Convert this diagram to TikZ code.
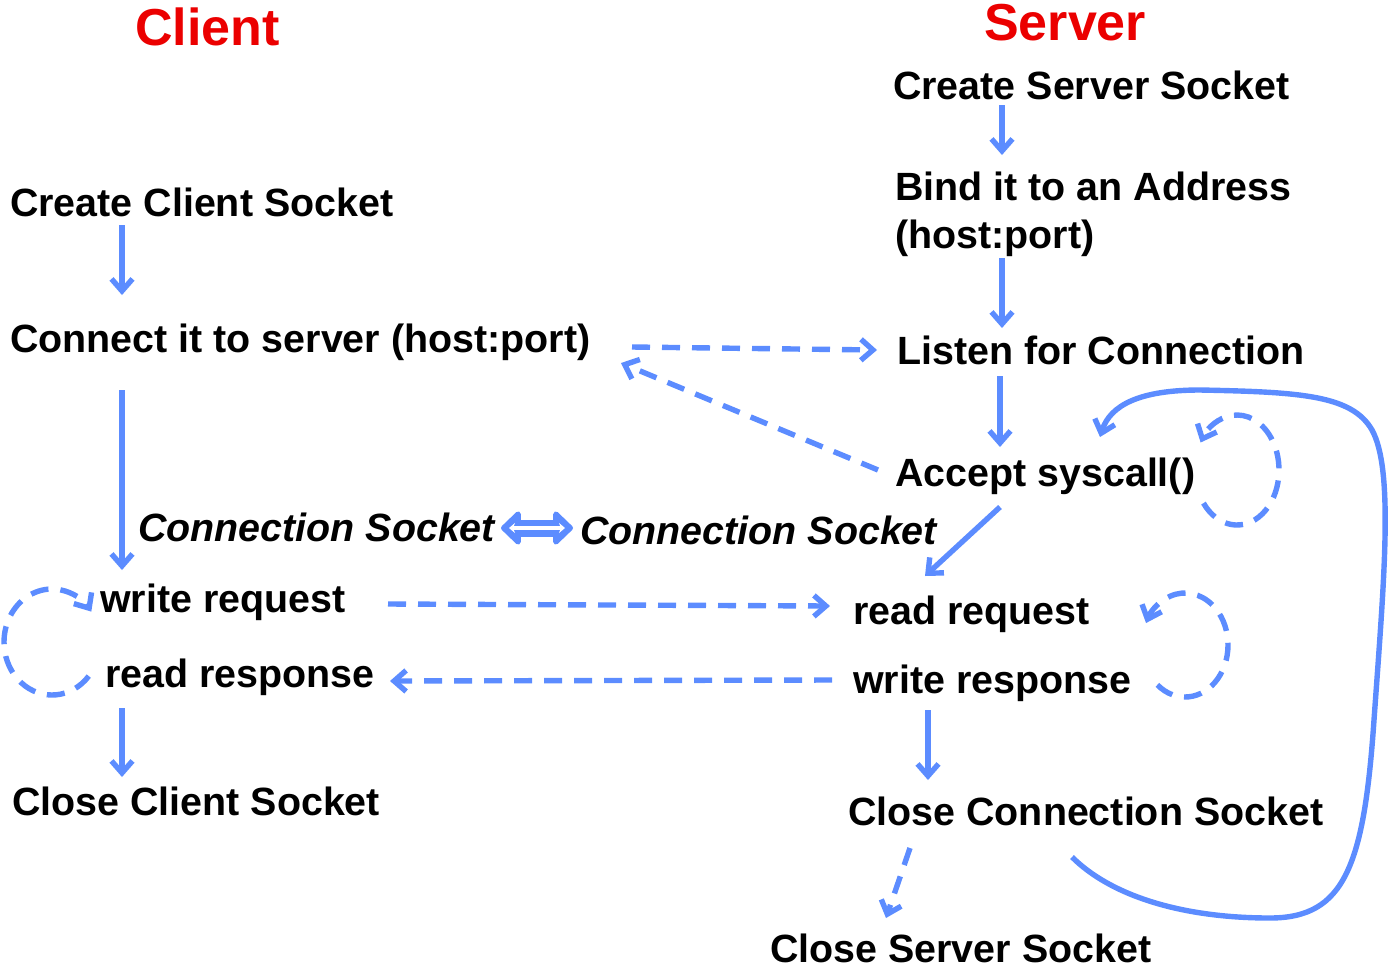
\documentclass[tikz,border=0pt]{standalone}
\usepackage{fontspec}
\setmainfont{Liberation Sans}
\usetikzlibrary{arrows.meta}
\definecolor{flow}{RGB}{92,140,255}
\definecolor{titlered}{RGB}{235,0,0}
\tikzset{
  lbl/.style={anchor=base west,inner sep=0pt,font=\fontsize{39.4pt}{44pt}\selectfont\bfseries},
  ilbl/.style={lbl,font=\fontsize{39.4pt}{44pt}\selectfont\bfseries\itshape},
  ttl/.style={anchor=base west,inner sep=0pt,text=titlered,font=\fontsize{52pt}{58pt}\selectfont\bfseries},
  tip/.style={-{Straight Barb[length=12pt,width=21pt]}},
  solidarr/.style={draw=flow,line width=5.4pt,tip},
  dasharr/.style={draw=flow,line width=5.4pt,tip,dash pattern=on 18pt off 12pt},
}
\begin{document}
\begin{tikzpicture}[x=1pt,y=-1pt]
\useasboundingbox (0,0) rectangle (1389,970);
% titles
\node[ttl] (tclient) at (135,45) {Client};
\node[ttl] (tserver) at (984,40) {Server};
% client side
\node[lbl] (ccs) at (10,216) {Create Client Socket};
\node[lbl] (conn) at (10,352) {Connect it to server (host:port)};
\node[ilbl] (csl) at (138,541) {Connection Socket};
\node[lbl] (wreq) at (100,612) {write request};
\node[lbl] (rresp) at (105,687) {read response};
\node[lbl] (ccls) at (12,815) {Close Client Socket};
% server side
\node[lbl] (css) at (893,99) {Create Server Socket};
\node[lbl] (bind) at (895,200) {Bind it to an Address};
\node[lbl] (hp) at (895,248) {(host:port)};
\node[lbl] (listen) at (897,364) {Listen for Connection};
\node[lbl] (accept) at (895,486) {Accept syscall()};
\node[ilbl] (csr) at (580,544) {Connection Socket};
\node[lbl] (rreq) at (853,624) {read request};
\node[lbl] (wresp) at (853,693) {write response};
\node[lbl] (cconn) at (848,825) {Close Connection Socket};
\node[lbl] (csrv) at (770,962) {Close Server Socket};
% endpoints
\coordinate (a1) at (122,225); \coordinate (a2) at (122,295);
\coordinate (b1) at (122,390); \coordinate (b2) at (122,570);
\coordinate (c1) at (122,708); \coordinate (c2) at (122,777);
\coordinate (d1) at (1002,105); \coordinate (d2) at (1002,155);
\coordinate (e1) at (1002,258); \coordinate (e2) at (1002,328);
\coordinate (f1) at (1000,376); \coordinate (f2) at (1000,447);
\coordinate (g1) at (1000,507); \coordinate (g2) at (925,576);
\coordinate (h1) at (928,710); \coordinate (h2) at (928,780);
\coordinate (i1) at (632,347); \coordinate (i2) at (877,350);
\coordinate (j1) at (878,470); \coordinate (j2) at (621,363);
\coordinate (k1) at (388,604); \coordinate (k2) at (830,606);
\coordinate (l1) at (832,680); \coordinate (l2) at (390,681);
\coordinate (m1) at (910,848); \coordinate (m2) at (886,918);
\coordinate (n1) at (1072,857); \coordinate (n2) at (1100,437);
% solid arrows
\draw[solidarr] (a1) -- (a2);
\draw[solidarr] (b1) -- (b2);
\draw[solidarr] (c1) -- (c2);
\draw[solidarr] (d1) -- (d2);
\draw[solidarr] (e1) -- (e2);
\draw[solidarr] (f1) -- (f2);
\draw[solidarr] (g1) -- (g2);
\draw[solidarr] (h1) -- (h2);
\draw[solidarr] (n1) .. controls (1110,895) and (1180,918) .. (1270,918)
  .. controls (1345,918) and (1364,865) .. (1374,720)
  .. controls (1384,580) and (1394,470) .. (1372,430)
  .. controls (1352,395) and (1300,392) .. (1200,390)
  .. controls (1140,390) and (1110,405) .. (n2);
% dashed arrows
\draw[dasharr] (i1) -- (i2);
\draw[dasharr] (j1) -- (j2);
\draw[dasharr] (k1) -- (k2);
\draw[dasharr] (l1) -- (l2);
\draw[dasharr] (m1) -- (m2);
% loops
\draw[dasharr] (52,642) ++(-40:48pt and 53pt) arc[start angle=-40,end angle=-325,x radius=48pt,y radius=53pt];
\draw[dasharr] (1237,470) ++(-143:42pt and 55pt) arc[start angle=-143,end angle=150,x radius=42pt,y radius=55pt];
\draw[dasharr] (1185,645) ++(-130:43pt and 52pt) arc[start angle=-130,end angle=155,x radius=43pt,y radius=52pt];
% double arrow between connection sockets
\coordinate (dl) at (501,528); \coordinate (dr) at (573,528);
\draw[flow,line width=17pt,line join=round,{Triangle[length=21pt,width=39pt,round]}-{Triangle[length=21pt,width=39pt,round]}] (dl) -- (dr);
\draw[white,line width=3.5pt,{Stealth[length=6pt,width=10pt]}-{Stealth[length=6pt,width=10pt]}] (509,528) -- (565,528);
\end{tikzpicture}
\end{document}
